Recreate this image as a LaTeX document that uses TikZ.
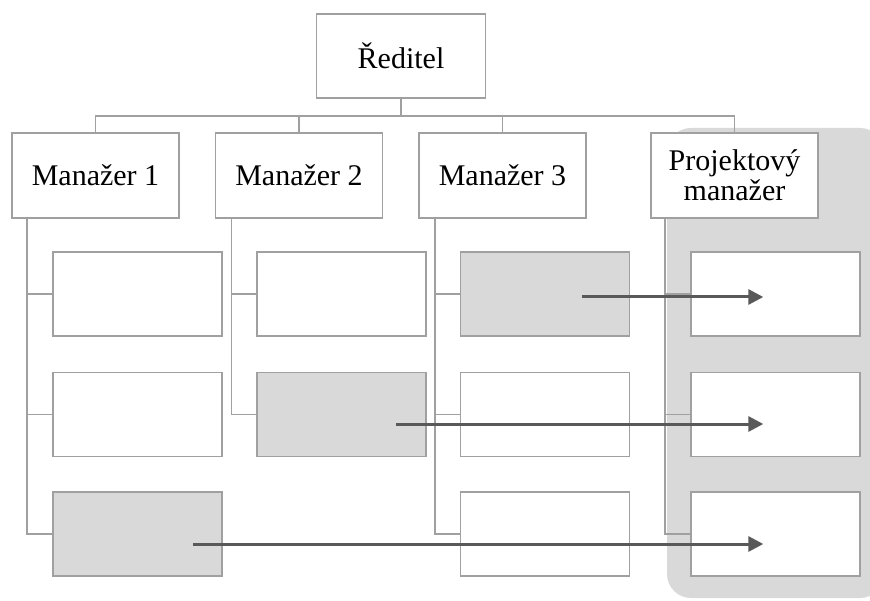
\documentclass[tikz,border=0pt]{standalone}
\usepackage{fontspec}
\setmainfont{Liberation Serif}
\usetikzlibrary{arrows.meta}
\definecolor{frame}{HTML}{A0A0A0}
\definecolor{bandgray}{HTML}{D9D9D9}
\definecolor{arrowc}{HTML}{595959}
\begin{document}
\begin{tikzpicture}[x=1pt,y=-1pt,
  box/.style={draw=frame,line width=1.6pt,fill=white,inner sep=0pt,
    minimum width=169pt,minimum height=84pt,align=center,
    font=\fontsize{30}{33}\selectfont},
  mgr/.style={box,minimum width=167pt,minimum height=85pt},
  graybox/.style={box,fill=bandgray},
  link/.style={draw=frame,line width=1.6pt},
  move/.style={draw=arrowc,line width=3pt,-{Triangle[length=15pt,width=15pt]}}]
\useasboundingbox (0,0) rectangle (870,601);
% shaded band behind the project manager column
\begin{scope}
  \clip (0,0) rectangle (870,601);
  \fill[bandgray,rounded corners=24pt] (667,128) rectangle (884,598);
\end{scope}

% director and managers
\node[box] (dir) at (401,56) {Ředitel};
\node[mgr] (m1) at (95.5,175.5) {Manažer 1};
\node[mgr] (m2) at (299,175.5) {Manažer 2};
\node[mgr] (m3) at (502.5,175.5) {Manažer 3};
\node[mgr] (pm) at (734.5,175.5) {Projektový\\[-3pt]manažer};

% subordinate positions
\node[box] (a1) at (137.5,294) {};
\node[box] (a2) at (137.5,414.5) {};
\node[graybox] (a3) at (137.5,534) {};
\node[box] (b1) at (341.5,294) {};
\node[graybox] (b2) at (341.5,414.5) {};
\node[graybox] (c1) at (545,294) {};
\node[box] (c2) at (545,414.5) {};
\node[box] (c3) at (545,534) {};
\node[box] (p1) at (775.3,294) {};
\node[box] (p2) at (775.3,414.5) {};
\node[box] (p3) at (775.3,534) {};

% reporting lines
\coordinate (bus) at (401,116);
\path[link] (dir.south) -- (bus);
\path[link] (m1.north) |- (bus) -| (pm.north);
\path[link] (m2.north) -- (m2.north |- bus);
\path[link] (m3.north) -- (m3.north |- bus);

\path[link] ([xshift=16pt]m1.south west) |- (a3.west);
\path[link] ([xshift=16pt]m1.south west |- a1.west) -- (a1.west);
\path[link] ([xshift=16pt]m1.south west |- a2.west) -- (a2.west);

\path[link] ([xshift=16.7pt]m2.south west) |- (b2.west);
\path[link] ([xshift=16.7pt]m2.south west |- b1.west) -- (b1.west);

\path[link] ([xshift=17pt]m3.south west) |- (c3.west);
\path[link] ([xshift=17pt]m3.south west |- c1.west) -- (c1.west);
\path[link] ([xshift=17pt]m3.south west |- c2.west) -- (c2.west);

\path[link] ([xshift=15pt]pm.south west) |- (p3.west);
\path[link] ([xshift=15pt]pm.south west |- p1.west) -- (p1.west);
\path[link] ([xshift=15pt]pm.south west |- p2.west) -- (p2.west);

% transfers to the project team
\draw[move] ([shift={(55.5,10)}]a3.center) -- ([shift={(-12,10)}]p3.center);
\draw[move] ([shift={(54.5,9.5)}]b2.center) -- ([shift={(-12,9.5)}]p2.center);
\draw[move] ([shift={(36.7,3)}]c1.center) -- ([shift={(-12,3)}]p1.center);
\end{tikzpicture}
\end{document}
